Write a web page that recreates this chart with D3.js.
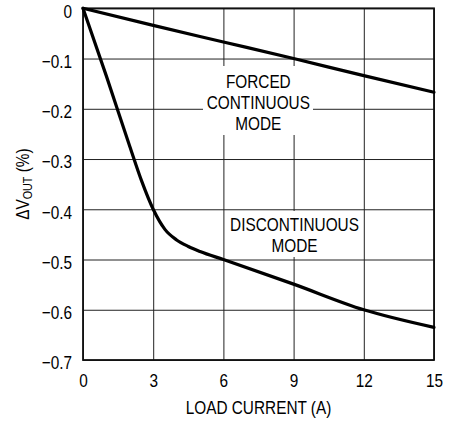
<!DOCTYPE html>
<html>
<head>
<meta charset="utf-8">
<script src="https://cdn.jsdelivr.net/npm/d3@7"></script>
<style>
  body { margin: 0; background: #fff; }
  svg text { font-family: "Liberation Sans", Arial, sans-serif; fill: #000; }
</style>
</head>
<body>
<svg id="chart"></svg>
<script>
(function(){
    "use strict";

    const width = 460,
        height = 423,
        margin = {top: 8.3, right: 26, bottom: 63, left: 83},
        fontSize = 18.5,
        squeeze = 0.83; // narrow face is not installed, so squash the sans

    // load current (A)
    const forcedX = [0, 3, 6, 9, 12, 15];
    const forcedY = [0, -0.034, -0.067, -0.1, -0.134, -0.167];

    const discX = [0, 1, 2, 2.5, 3, 3.5, 4, 4.5, 5, 6, 9, 12, 15];
    const discY = [0, -0.135, -0.275, -0.343, -0.4, -0.44, -0.461, -0.474, -0.484, -0.5, -0.549, -0.6, -0.635];

    const xTicks = [0, 3, 6, 9, 12, 15];
    const yTicks = [0, -0.1, -0.2, -0.3, -0.4, -0.5, -0.6, -0.7];

    const w = width - margin.left - margin.right,
        h = height - margin.top - margin.bottom;

    let svg = d3.select("svg#chart")
        .attr("width", width)
        .attr("height", height);

    let g = svg.append("g")
        .attr("transform", `translate(${margin.left}, ${margin.top})`);

    const x = d3.scaleLinear().domain([0, 15]).range([0, w]);
    const y = d3.scaleLinear().domain([-0.7, 0]).range([h, 0]);

    const fmtY = d => Math.abs(d) < 1e-9 ? "0" : d3.format(".1f")(d);

    // grid + tick labels
    let xAxis = g.append("g")
        .attr("transform", `translate(0, ${h})`)
        .call(d3.axisBottom(x).tickValues(xTicks).tickSize(-h).tickPadding(11).tickFormat(d3.format("d")));

    let yAxis = g.append("g")
        .call(d3.axisLeft(y).tickValues(yTicks).tickSize(-w).tickPadding(11).tickFormat(fmtY));

    [xAxis, yAxis].forEach(a => {
        a.select(".domain").remove();
        a.selectAll(".tick line").attr("stroke", "#222").attr("stroke-width", 1);
        a.selectAll(".tick text")
            .style("font-size", fontSize + "px")
            .attr("fill", "#000")
            .attr("transform", `scale(${squeeze},1)`);
    });
    yAxis.selectAll(".tick text").attr("x", -11 / squeeze).attr("dy", "0.48em");
    xAxis.selectAll(".tick text").attr("dy", "0.88em");

    // white boxes behind annotations
    g.append("rect")
        .attr("x", 203 - margin.left).attr("y", 66 - margin.top)
        .attr("width", 110).attr("height", 69)
        .attr("fill", "#fff");
    g.append("rect")
        .attr("x", 228 - margin.left).attr("y", 211 - margin.top)
        .attr("width", 134).attr("height", 46)
        .attr("fill", "#fff");

    // frame
    g.append("rect")
        .attr("width", w).attr("height", h)
        .attr("fill", "none")
        .attr("stroke", "#111")
        .attr("stroke-width", 1.8);

    const line = d3.line()
        .x(d => x(d[0]))
        .y(d => y(d[1]))
        .curve(d3.curveMonotoneX);

    g.append("path")
        .datum(d3.zip(forcedX, forcedY))
        .attr("d", line)
        .attr("fill", "none")
        .attr("stroke", "#000")
        .attr("stroke-width", 3.2)
        .attr("stroke-linecap", "round");

    g.append("path")
        .datum(d3.zip(discX, discY))
        .attr("d", line)
        .attr("fill", "none")
        .attr("stroke", "#000")
        .attr("stroke-width", 3.2)
        .attr("stroke-linecap", "round");

    const label = (t, px, py, rot) => svg.append("text")
        .attr("transform", `translate(${px}, ${py})` + (rot ? ` rotate(${rot})` : "") + ` scale(${squeeze},1)`)
        .attr("text-anchor", "middle")
        .style("font-size", fontSize + "px")
        .text(t);

    // annotations
    ["FORCED", "CONTINUOUS", "MODE"].forEach((t, i) => label(t, 258.3, 88 + i * 20.8));
    ["DISCONTINUOUS", "MODE"].forEach((t, i) => label(t, 294.5, 231 + i * 21));

    // axis titles
    label("LOAD CURRENT (A)", margin.left + w / 2, 414);

    let yt = label("", 29, margin.top + h / 2, -90);
    yt.append("tspan").text("\u0394V");
    yt.append("tspan").attr("dy", 3).style("font-size", "13px").text("OUT");
    yt.append("tspan").attr("dy", -3).text(" (%)");
})();
</script>
</body>
</html>
